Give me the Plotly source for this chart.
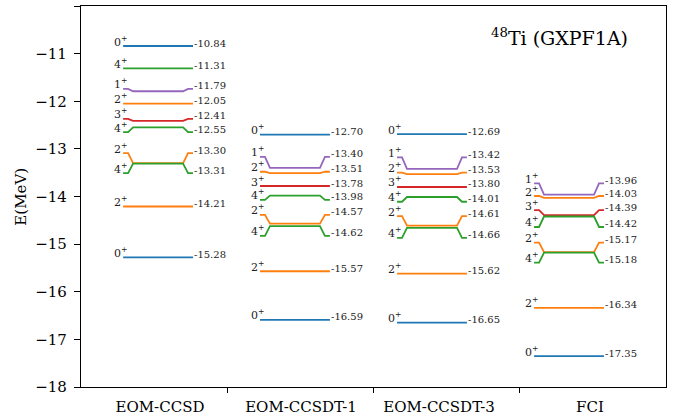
import plotly.graph_objects as go

# ---- data: excitation spectra of 48Ti (GXPF1A interaction) ----
methods = ["EOM-CCSD", "EOM-CCSDT-1", "EOM-CCSDT-3", "FCI"]

ccsd_spin = [0, 4, 1, 2, 3, 4, 2, 4, 2, 0]
ccsd_energy = [-10.84, -11.31, -11.79, -12.05, -12.41, -12.55, -13.30, -13.31, -14.21, -15.28]

ccsdt1_spin = [0, 1, 2, 3, 4, 2, 4, 2, 0]
ccsdt1_energy = [-12.70, -13.40, -13.51, -13.78, -13.98, -14.57, -14.62, -15.57, -16.59]

ccsdt3_spin = [0, 1, 2, 3, 4, 2, 4, 2, 0]
ccsdt3_energy = [-12.69, -13.42, -13.53, -13.80, -14.01, -14.61, -14.66, -15.62, -16.65]

fci_spin = [1, 2, 3, 4, 2, 4, 2, 0]
fci_energy = [-13.96, -14.03, -14.39, -14.42, -15.17, -15.18, -16.34, -17.35]

# ---- layout: label nudges (MeV) so close-lying levels keep readable labels ----
ccsd_nudge = [0, 0, 0.05, 0, 0.04, -0.10, 0.21, -0.20, 0, 0]
ccsdt1_nudge = [0, 0.23, 0.03, 0, -0.09, 0.185, -0.205, 0, 0]
ccsdt3_nudge = [0, 0.24, 0.03, 0, -0.10, 0.20, -0.21, 0, 0]
fci_nudge = [0.235, 0.04, 0.105, -0.22, 0.20, -0.21, 0, 0]

columns = [
    (ccsd_spin, ccsd_energy, ccsd_nudge),
    (ccsdt1_spin, ccsdt1_energy, ccsdt1_nudge),
    (ccsdt3_spin, ccsdt3_energy, ccsdt3_nudge),
    (fci_spin, fci_energy, fci_nudge),
]

col_center = [0.527, 1.463, 2.400, 3.337]
half_w = 0.239
flat = 0.034     # straight stub at each end
bend = 0.068     # where the slanted part meets the level

spin_color = {
    0: "#1f77b4",
    1: "#9467bd",
    2: "#ff7f0e",
    3: "#d62728",
    4: "#2ca02c",
}

FONT = "DejaVu Serif"

fig = go.Figure()
annotations = []

for xc, (spins, energies, nudges) in zip(col_center, columns):
    xl, xr = xc - half_w, xc + half_w
    for J, E, d in zip(spins, energies, nudges):
        yl = E + d
        fig.add_trace(go.Scatter(
            x=[xl, xl + flat, xl + bend, xr - bend, xr - flat, xr],
            y=[yl, yl, E, E, yl, yl],
            mode="lines",
            line=dict(color=spin_color[J], width=1.8),
            hoverinfo="skip",
            showlegend=False,
        ))
        annotations.append(dict(
            x=xr, y=yl, xref="x", yref="y",
            text=f"-{abs(E):.2f}",
            showarrow=False, xanchor="left", yanchor="middle",
            yshift=3, xshift=-1,
            font=dict(family=FONT, size=10, color="#222"),
        ))
        annotations.append(dict(
            x=xl, y=yl, xref="x", yref="y",
            text=f"{J}<sup>+</sup>",
            showarrow=False, xanchor="right", yanchor="middle",
            yshift=5, xshift=6,
            font=dict(family=FONT, size=11, color="#222"),
        ))

annotations.append(dict(
    x=0.697, y=0.918, xref="paper", yref="paper",
    text="<sup>48</sup>Ti (GXPF1A)",
    showarrow=False, xanchor="left", yanchor="middle",
    font=dict(family=FONT, size=19, color="black"),
))
annotations.append(dict(
    x=-0.104, y=0.5, xref="paper", yref="paper",
    text="E(MeV)", textangle=-90,
    showarrow=False, xanchor="center", yanchor="middle",
    font=dict(family=FONT, size=15, color="black"),
))

fig.update_layout(
    width=691, height=417,
    margin=dict(l=81, r=25, t=6, b=30),
    paper_bgcolor="white", plot_bgcolor="white",
    annotations=annotations,
    xaxis=dict(
        range=[0, 4],
        automargin=False,
        tickmode="array",
        tickvals=[0.54, 1.504, 2.448, 3.48],
        ticktext=methods,
        ticks="",
        ticklabelstandoff=6,
        minor=dict(tickmode="array", tickvals=[1, 2, 3], ticks="outside",
                   ticklen=5, tickwidth=1, tickcolor="black"),
        showline=True, mirror=True, linecolor="black", linewidth=1.2,
        showgrid=False, zeroline=False,
        tickfont=dict(family=FONT, size=15, color="black"),
    ),
    yaxis=dict(
        range=[-18, -10],
        automargin=False,
        tickmode="linear", tick0=-18, dtick=1,
        ticks="outside", ticklen=6, tickwidth=1, tickcolor="black",
        ticklabelstandoff=4,
        showline=True, mirror=True, linecolor="black", linewidth=1.2,
        showgrid=False, zeroline=False,
        tickfont=dict(family=FONT, size=15, color="black"),
    ),
)

fig.write_html("out.html")
